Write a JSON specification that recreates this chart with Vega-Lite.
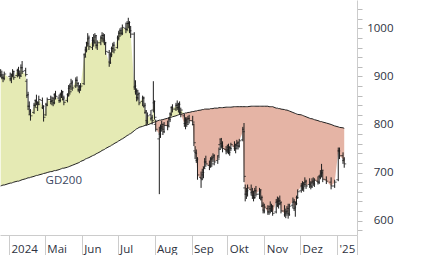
{
"$schema":"https://vega.github.io/schema/vega-lite/v6.json",
"width":357,"height":235,"autosize":{"type":"none"},"padding":{"left":0,"top":0,"right":69,"bottom":20},"background":"white",
"config":{"view":{"stroke":null},"font":"Open Sans",
"axisX":{"tickSize":20,"tickColor":"#cccccc","domainColor":"#cccccc","labelAlign":"left","labelBaseline":"alphabetic","labelPadding":-3,"labelOffset":2,"labelFontSize":11.5,"labelColor":"#2e3240","labelFont":"Open Sans","grid":false,"labelFlush":false,"labelOverlap":false,"labelBound":false},
"axisY":{"tickSize":5,"tickColor":"#bbbbbb","domainColor":"#cccccc","labelAlign":"right","labelPadding":31,"labelFontSize":11.5,"labelColor":"#2e3240","labelFont":"Open Sans","grid":false,"labelOverlap":false,"labelBound":false,"labelFlush":false}},
"data":{"format":{"parse":{"d":"date"}},"values":[
{"d":"2024-03-25","o":908,"h":915,"l":898,"c":903,"g":672},
{"d":"2024-03-26","o":903,"h":912,"l":894,"c":898,"g":673},
{"d":"2024-03-27","o":898,"h":905,"l":888,"c":896,"g":674},
{"d":"2024-03-28","o":896,"h":910,"l":892,"c":905,"g":674},
{"d":"2024-04-02","o":900,"h":908,"l":890,"c":895,"g":678},
{"d":"2024-04-03","o":895,"h":905,"l":886,"c":902,"g":678},
{"d":"2024-04-04","o":905,"h":915,"l":898,"c":910,"g":679},
{"d":"2024-04-05","o":905,"h":912,"l":893,"c":898,"g":680},
{"d":"2024-04-08","o":902,"h":916,"l":898,"c":912,"g":682},
{"d":"2024-04-09","o":912,"h":920,"l":900,"c":905,"g":682},
{"d":"2024-04-10","o":905,"h":912,"l":895,"c":900,"g":683},
{"d":"2024-04-11","o":902,"h":925,"l":900,"c":918,"g":684},
{"d":"2024-04-12","o":918,"h":932,"l":905,"c":910,"g":685},
{"d":"2024-04-15","o":912,"h":918,"l":900,"c":904,"g":687},
{"d":"2024-04-16","o":890,"h":895,"l":855,"c":862,"g":688},
{"d":"2024-04-17","o":860,"h":868,"l":830,"c":838,"g":689},
{"d":"2024-04-18","o":838,"h":848,"l":820,"c":828,"g":689},
{"d":"2024-04-19","o":820,"h":832,"l":808,"c":818,"g":690},
{"d":"2024-04-22","o":825,"h":845,"l":822,"c":840,"g":692},
{"d":"2024-04-23","o":840,"h":852,"l":835,"c":848,"g":693},
{"d":"2024-04-24","o":850,"h":862,"l":840,"c":845,"g":694},
{"d":"2024-04-25","o":835,"h":848,"l":828,"c":842,"g":694},
{"d":"2024-04-26","o":845,"h":860,"l":840,"c":852,"g":695},
{"d":"2024-04-29","o":850,"h":856,"l":832,"c":838,"g":697},
{"d":"2024-04-30","o":835,"h":840,"l":806,"c":815,"g":698},
{"d":"2024-05-02","o":820,"h":845,"l":818,"c":840,"g":699},
{"d":"2024-05-03","o":842,"h":856,"l":838,"c":852,"g":700},
{"d":"2024-05-06","o":852,"h":860,"l":842,"c":848,"g":702},
{"d":"2024-05-07","o":848,"h":858,"l":840,"c":855,"g":702},
{"d":"2024-05-08","o":850,"h":856,"l":838,"c":845,"g":703},
{"d":"2024-05-09","o":845,"h":865,"l":842,"c":860,"g":704},
{"d":"2024-05-10","o":862,"h":870,"l":852,"c":858,"g":704},
{"d":"2024-05-13","o":855,"h":862,"l":845,"c":850,"g":706},
{"d":"2024-05-14","o":850,"h":866,"l":846,"c":862,"g":707},
{"d":"2024-05-15","o":862,"h":872,"l":855,"c":868,"g":708},
{"d":"2024-05-16","o":866,"h":870,"l":850,"c":855,"g":709},
{"d":"2024-05-17","o":852,"h":860,"l":840,"c":846,"g":709},
{"d":"2024-05-20","o":850,"h":865,"l":846,"c":860,"g":711},
{"d":"2024-05-21","o":862,"h":882,"l":858,"c":878,"g":712},
{"d":"2024-05-22","o":875,"h":885,"l":862,"c":868,"g":713},
{"d":"2024-05-23","o":880,"h":895,"l":872,"c":888,"g":714},
{"d":"2024-05-24","o":885,"h":892,"l":870,"c":876,"g":715},
{"d":"2024-05-27","o":880,"h":898,"l":876,"c":892,"g":718},
{"d":"2024-05-28","o":892,"h":900,"l":880,"c":885,"g":719},
{"d":"2024-05-29","o":880,"h":888,"l":868,"c":872,"g":720},
{"d":"2024-05-30","o":872,"h":882,"l":865,"c":878,"g":721},
{"d":"2024-05-31","o":878,"h":886,"l":870,"c":880,"g":723},
{"d":"2024-06-03","o":885,"h":948,"l":882,"c":940,"g":726},
{"d":"2024-06-04","o":945,"h":962,"l":940,"c":955,"g":728},
{"d":"2024-06-05","o":955,"h":972,"l":950,"c":968,"g":729},
{"d":"2024-06-06","o":970,"h":990,"l":962,"c":980,"g":730},
{"d":"2024-06-07","o":978,"h":985,"l":955,"c":962,"g":731},
{"d":"2024-06-10","o":960,"h":982,"l":955,"c":975,"g":735},
{"d":"2024-06-11","o":975,"h":988,"l":962,"c":970,"g":736},
{"d":"2024-06-12","o":972,"h":990,"l":968,"c":985,"g":737},
{"d":"2024-06-13","o":982,"h":986,"l":958,"c":965,"g":739},
{"d":"2024-06-14","o":965,"h":975,"l":955,"c":970,"g":740},
{"d":"2024-06-17","o":970,"h":985,"l":965,"c":980,"g":744},
{"d":"2024-06-18","o":980,"h":992,"l":972,"c":985,"g":746},
{"d":"2024-06-19","o":985,"h":990,"l":970,"c":975,"g":747},
{"d":"2024-06-20","o":978,"h":988,"l":965,"c":970,"g":748},
{"d":"2024-06-21","o":968,"h":972,"l":945,"c":952,"g":750},
{"d":"2024-06-24","o":950,"h":955,"l":920,"c":928,"g":754},
{"d":"2024-06-25","o":930,"h":950,"l":926,"c":945,"g":755},
{"d":"2024-06-26","o":945,"h":962,"l":940,"c":958,"g":757},
{"d":"2024-06-27","o":958,"h":970,"l":950,"c":965,"g":758},
{"d":"2024-06-28","o":965,"h":972,"l":948,"c":955,"g":760},
{"d":"2024-07-01","o":960,"h":985,"l":958,"c":980,"g":764},
{"d":"2024-07-02","o":980,"h":995,"l":975,"c":990,"g":766},
{"d":"2024-07-03","o":990,"h":1000,"l":982,"c":995,"g":767},
{"d":"2024-07-04","o":995,"h":1002,"l":985,"c":990,"g":769},
{"d":"2024-07-05","o":990,"h":1008,"l":986,"c":1002,"g":770},
{"d":"2024-07-08","o":1000,"h":1012,"l":990,"c":998,"g":775},
{"d":"2024-07-09","o":998,"h":1015,"l":994,"c":1010,"g":777},
{"d":"2024-07-10","o":1010,"h":1022,"l":1000,"c":1012,"g":778},
{"d":"2024-07-11","o":1010,"h":1015,"l":990,"c":995,"g":780},
{"d":"2024-07-12","o":995,"h":1005,"l":980,"c":988,"g":781},
{"d":"2024-07-15","o":988,"h":992,"l":872,"c":880,"g":787},
{"d":"2024-07-16","o":878,"h":892,"l":862,"c":870,"g":789},
{"d":"2024-07-17","o":868,"h":875,"l":848,"c":855,"g":791},
{"d":"2024-07-18","o":856,"h":872,"l":850,"c":865,"g":792},
{"d":"2024-07-19","o":862,"h":866,"l":840,"c":845,"g":794},
{"d":"2024-07-22","o":848,"h":860,"l":838,"c":855,"g":796},
{"d":"2024-07-23","o":855,"h":858,"l":835,"c":840,"g":797},
{"d":"2024-07-24","o":838,"h":845,"l":822,"c":828,"g":798},
{"d":"2024-07-25","o":825,"h":830,"l":797,"c":805,"g":799},
{"d":"2024-07-26","o":808,"h":825,"l":800,"c":818,"g":799},
{"d":"2024-07-29","o":820,"h":830,"l":808,"c":815,"g":802},
{"d":"2024-07-30","o":812,"h":820,"l":800,"c":808,"g":803},
{"d":"2024-07-31","o":830,"h":890,"l":825,"c":848,"g":804},
{"d":"2024-08-01","o":845,"h":850,"l":810,"c":815,"g":805},
{"d":"2024-08-02","o":800,"h":810,"l":785,"c":790,"g":806},
{"d":"2024-08-05","o":770,"h":795,"l":655,"c":780,"g":809},
{"d":"2024-08-06","o":780,"h":800,"l":772,"c":792,"g":809},
{"d":"2024-08-07","o":795,"h":808,"l":785,"c":800,"g":810},
{"d":"2024-08-08","o":795,"h":802,"l":778,"c":785,"g":810},
{"d":"2024-08-09","o":790,"h":805,"l":782,"c":798,"g":811},
{"d":"2024-08-12","o":798,"h":808,"l":788,"c":795,"g":813},
{"d":"2024-08-13","o":798,"h":815,"l":795,"c":810,"g":814},
{"d":"2024-08-14","o":812,"h":825,"l":805,"c":820,"g":815},
{"d":"2024-08-15","o":822,"h":838,"l":818,"c":835,"g":815},
{"d":"2024-08-16","o":835,"h":842,"l":825,"c":832,"g":816},
{"d":"2024-08-19","o":832,"h":845,"l":828,"c":840,"g":818},
{"d":"2024-08-20","o":840,"h":850,"l":830,"c":835,"g":819},
{"d":"2024-08-21","o":835,"h":845,"l":825,"c":842,"g":820},
{"d":"2024-08-22","o":842,"h":848,"l":820,"c":825,"g":821},
{"d":"2024-08-23","o":825,"h":835,"l":815,"c":830,"g":821},
{"d":"2024-08-26","o":818,"h":822,"l":795,"c":802,"g":823},
{"d":"2024-08-27","o":802,"h":815,"l":790,"c":810,"g":824},
{"d":"2024-08-28","o":808,"h":815,"l":795,"c":800,"g":824},
{"d":"2024-08-29","o":805,"h":818,"l":800,"c":812,"g":825},
{"d":"2024-08-30","o":812,"h":820,"l":802,"c":808,"g":825},
{"d":"2024-09-02","o":808,"h":818,"l":798,"c":805,"g":827},
{"d":"2024-09-03","o":800,"h":802,"l":755,"c":762,"g":827},
{"d":"2024-09-04","o":745,"h":755,"l":728,"c":740,"g":828},
{"d":"2024-09-05","o":742,"h":748,"l":720,"c":728,"g":828},
{"d":"2024-09-06","o":725,"h":732,"l":685,"c":695,"g":829},
{"d":"2024-09-09","o":690,"h":702,"l":668,"c":685,"g":830},
{"d":"2024-09-10","o":688,"h":708,"l":685,"c":700,"g":831},
{"d":"2024-09-11","o":695,"h":712,"l":688,"c":708,"g":831},
{"d":"2024-09-12","o":712,"h":730,"l":708,"c":722,"g":832},
{"d":"2024-09-13","o":722,"h":735,"l":712,"c":718,"g":832},
{"d":"2024-09-16","o":715,"h":725,"l":705,"c":712,"g":832},
{"d":"2024-09-17","o":715,"h":732,"l":710,"c":728,"g":833},
{"d":"2024-09-18","o":728,"h":735,"l":712,"c":718,"g":833},
{"d":"2024-09-19","o":730,"h":740,"l":722,"c":735,"g":833},
{"d":"2024-09-20","o":732,"h":738,"l":715,"c":722,"g":834},
{"d":"2024-09-23","o":725,"h":735,"l":718,"c":728,"g":834},
{"d":"2024-09-24","o":735,"h":752,"l":730,"c":748,"g":835},
{"d":"2024-09-25","o":758,"h":770,"l":748,"c":760,"g":835},
{"d":"2024-09-26","o":770,"h":772,"l":750,"c":755,"g":835},
{"d":"2024-09-27","o":755,"h":765,"l":742,"c":750,"g":835},
{"d":"2024-09-30","o":748,"h":755,"l":738,"c":745,"g":836},
{"d":"2024-10-01","o":745,"h":758,"l":740,"c":752,"g":836},
{"d":"2024-10-02","o":748,"h":760,"l":738,"c":742,"g":836},
{"d":"2024-10-03","o":745,"h":755,"l":735,"c":750,"g":836},
{"d":"2024-10-04","o":752,"h":762,"l":745,"c":758,"g":836},
{"d":"2024-10-07","o":755,"h":765,"l":745,"c":750,"g":837},
{"d":"2024-10-08","o":750,"h":760,"l":740,"c":756,"g":837},
{"d":"2024-10-09","o":758,"h":768,"l":748,"c":762,"g":837},
{"d":"2024-10-10","o":760,"h":765,"l":748,"c":755,"g":837},
{"d":"2024-10-11","o":755,"h":770,"l":752,"c":766,"g":837},
{"d":"2024-10-14","o":768,"h":795,"l":765,"c":785,"g":837},
{"d":"2024-10-15","o":790,"h":803,"l":680,"c":692,"g":837},
{"d":"2024-10-16","o":668,"h":675,"l":640,"c":655,"g":837},
{"d":"2024-10-17","o":655,"h":668,"l":645,"c":662,"g":837},
{"d":"2024-10-18","o":660,"h":675,"l":650,"c":668,"g":837},
{"d":"2024-10-21","o":665,"h":675,"l":652,"c":660,"g":838},
{"d":"2024-10-22","o":658,"h":668,"l":645,"c":652,"g":838},
{"d":"2024-10-23","o":652,"h":662,"l":640,"c":648,"g":838},
{"d":"2024-10-24","o":648,"h":668,"l":645,"c":662,"g":838},
{"d":"2024-10-25","o":662,"h":672,"l":650,"c":655,"g":838},
{"d":"2024-10-28","o":655,"h":668,"l":645,"c":664,"g":838},
{"d":"2024-10-29","o":660,"h":665,"l":642,"c":648,"g":838},
{"d":"2024-10-30","o":645,"h":652,"l":628,"c":632,"g":838},
{"d":"2024-10-31","o":630,"h":638,"l":615,"c":620,"g":838},
{"d":"2024-11-01","o":622,"h":635,"l":615,"c":628,"g":838},
{"d":"2024-11-04","o":625,"h":632,"l":612,"c":618,"g":838},
{"d":"2024-11-05","o":618,"h":630,"l":612,"c":625,"g":837},
{"d":"2024-11-06","o":630,"h":640,"l":615,"c":620,"g":837},
{"d":"2024-11-07","o":622,"h":635,"l":618,"c":630,"g":837},
{"d":"2024-11-08","o":628,"h":632,"l":610,"c":615,"g":837},
{"d":"2024-11-11","o":618,"h":645,"l":615,"c":640,"g":834},
{"d":"2024-11-12","o":638,"h":650,"l":628,"c":635,"g":834},
{"d":"2024-11-13","o":632,"h":648,"l":625,"c":642,"g":833},
{"d":"2024-11-14","o":640,"h":652,"l":632,"c":638,"g":833},
{"d":"2024-11-15","o":635,"h":640,"l":615,"c":620,"g":832},
{"d":"2024-11-18","o":620,"h":632,"l":608,"c":615,"g":831},
{"d":"2024-11-19","o":612,"h":625,"l":605,"c":618,"g":830},
{"d":"2024-11-20","o":618,"h":630,"l":610,"c":625,"g":830},
{"d":"2024-11-21","o":620,"h":635,"l":604,"c":612,"g":829},
{"d":"2024-11-22","o":615,"h":635,"l":610,"c":630,"g":828},
{"d":"2024-11-25","o":632,"h":648,"l":625,"c":640,"g":825},
{"d":"2024-11-26","o":638,"h":645,"l":620,"c":628,"g":824},
{"d":"2024-11-27","o":625,"h":640,"l":608,"c":635,"g":823},
{"d":"2024-11-28","o":638,"h":652,"l":632,"c":648,"g":822},
{"d":"2024-11-29","o":648,"h":665,"l":645,"c":660,"g":821},
{"d":"2024-12-02","o":662,"h":678,"l":658,"c":672,"g":820},
{"d":"2024-12-03","o":672,"h":682,"l":662,"c":668,"g":819},
{"d":"2024-12-04","o":668,"h":680,"l":660,"c":675,"g":818},
{"d":"2024-12-05","o":678,"h":690,"l":670,"c":682,"g":817},
{"d":"2024-12-06","o":680,"h":685,"l":666,"c":672,"g":816},
{"d":"2024-12-09","o":675,"h":688,"l":668,"c":678,"g":813},
{"d":"2024-12-10","o":675,"h":682,"l":665,"c":670,"g":812},
{"d":"2024-12-11","o":672,"h":688,"l":668,"c":682,"g":812},
{"d":"2024-12-12","o":680,"h":690,"l":672,"c":676,"g":811},
{"d":"2024-12-13","o":678,"h":688,"l":670,"c":684,"g":810},
{"d":"2024-12-16","o":682,"h":692,"l":675,"c":680,"g":808},
{"d":"2024-12-17","o":680,"h":695,"l":676,"c":690,"g":807},
{"d":"2024-12-18","o":692,"h":705,"l":686,"c":698,"g":806},
{"d":"2024-12-19","o":695,"h":718,"l":690,"c":705,"g":806},
{"d":"2024-12-20","o":700,"h":705,"l":680,"c":686,"g":805},
{"d":"2024-12-23","o":685,"h":692,"l":676,"c":682,"g":803},
{"d":"2024-12-27","o":680,"h":690,"l":665,"c":672,"g":800},
{"d":"2024-12-30","o":672,"h":685,"l":668,"c":680,"g":797},
{"d":"2025-01-02","o":685,"h":752,"l":682,"c":745,"g":795},
{"d":"2025-01-03","o":745,"h":752,"l":728,"c":735,"g":794},
{"d":"2025-01-06","o":735,"h":742,"l":718,"c":728,"g":793},
{"d":"2025-01-07","o":725,"h":732,"l":710,"c":718,"g":792}
]},
"encoding":{"x":{"field":"d","type":"temporal","title":null,
"scale":{"domain":[{"year":2024,"month":3,"date":24,"hours":11},{"year":2025,"month":1,"date":17,"hours":17}]},
"axis":{"title":null,"values":[{"year":2024,"month":4,"date":1},{"year":2024,"month":5,"date":1},{"year":2024,"month":6,"date":1},{"year":2024,"month":7,"date":1},{"year":2024,"month":8,"date":1},{"year":2024,"month":9,"date":1},{"year":2024,"month":10,"date":1},{"year":2024,"month":11,"date":1},{"year":2024,"month":12,"date":1},{"year":2025,"month":1,"date":1},{"year":2025,"month":1,"date":17,"hours":17}],
"labelExpr":"date(datum.value) != 1 ? '' : month(datum.value) == 3 ? '2024' : month(datum.value) == 0 ? \"'25\" : ['Jan','Feb','Mär','Apr','Mai','Jun','Jul','Aug','Sep','Okt','Nov','Dez'][month(datum.value)]"}}},
"layer":[
{"transform":[{"fold":["c","g"],"as":["k","v"]},{"aggregate":[{"op":"max","field":"v","as":"hi"},{"op":"min","field":"v","as":"lo"}],"groupby":["d","g"]}],
"layer":[
{"mark":{"type":"area","color":"#e5eab4","interpolate":"linear"},"encoding":{"y":{"field":"hi","type":"quantitative","title":null,"scale":{"domain":[570,1059],"nice":false,"zero":false},"axis":{"orient":"right","title":null,"format":"d","values":[580,600,620,640,660,680,700,720,740,760,780,800,820,840,860,880,900,920,940,960,980,1000,1020,1040],"labelExpr":"datum.value % 100 == 0 ? datum.label : ''"}},"y2":{"field":"g"}}},
{"mark":{"type":"area","color":"#e5b4a5","interpolate":"linear"},"encoding":{"y":{"field":"lo","type":"quantitative","title":null,"scale":{"domain":[570,1059],"nice":false,"zero":false},"axis":{"orient":"right","title":null,"format":"d","values":[580,600,620,640,660,680,700,720,740,760,780,800,820,840,860,880,900,920,940,960,980,1000,1020,1040],"labelExpr":"datum.value % 100 == 0 ? datum.label : ''"}},"y2":{"field":"g"}}}
]},
{"mark":{"type":"line","color":"#222222","strokeWidth":1},"encoding":{"y":{"field":"g","type":"quantitative","title":null,"scale":{"domain":[570,1059],"nice":false,"zero":false},"axis":{"orient":"right","title":null,"format":"d","values":[580,600,620,640,660,680,700,720,740,760,780,800,820,840,860,880,900,920,940,960,980,1000,1020,1040],"labelExpr":"datum.value % 100 == 0 ? datum.label : ''"}}}},
{"mark":{"type":"rule","color":"#1e1e1e","strokeWidth":1},"encoding":{"y":{"field":"l","type":"quantitative","title":null,"scale":{"domain":[570,1059],"nice":false,"zero":false},"axis":{"orient":"right","title":null,"format":"d","values":[580,600,620,640,660,680,700,720,740,760,780,800,820,840,860,880,900,920,940,960,980,1000,1020,1040],"labelExpr":"datum.value % 100 == 0 ? datum.label : ''"}},"y2":{"field":"h"}}},
{"mark":{"type":"tick","orient":"horizontal","color":"#1e1e1e","size":2,"thickness":1,"xOffset":-1},"encoding":{"y":{"field":"o","type":"quantitative","title":null,"scale":{"domain":[570,1059],"nice":false,"zero":false},"axis":{"orient":"right","title":null,"format":"d","values":[580,600,620,640,660,680,700,720,740,760,780,800,820,840,860,880,900,920,940,960,980,1000,1020,1040],"labelExpr":"datum.value % 100 == 0 ? datum.label : ''"}}}},
{"mark":{"type":"tick","orient":"horizontal","color":"#1e1e1e","size":2,"thickness":1,"xOffset":1},"encoding":{"y":{"field":"c","type":"quantitative","title":null,"scale":{"domain":[570,1059],"nice":false,"zero":false},"axis":{"orient":"right","title":null,"format":"d","values":[580,600,620,640,660,680,700,720,740,760,780,800,820,840,860,880,900,920,940,960,980,1000,1020,1040],"labelExpr":"datum.value % 100 == 0 ? datum.label : ''"}}}},
{"data":{"format":{"parse":{"d":"date"}},"values":[{"d":"2024-04-30","v":683,"t":"GD200"}]},
"mark":{"type":"text","align":"left","baseline":"middle","dx":2,"fontSize":11.5,"font":"Open Sans","color":"#3a4660"},
"encoding":{"y":{"field":"v","type":"quantitative","title":null,"scale":{"domain":[570,1059],"nice":false,"zero":false},"axis":{"orient":"right","title":null,"format":"d","values":[580,600,620,640,660,680,700,720,740,760,780,800,820,840,860,880,900,920,940,960,980,1000,1020,1040],"labelExpr":"datum.value % 100 == 0 ? datum.label : ''"}},"text":{"field":"t"}}}
]
}
